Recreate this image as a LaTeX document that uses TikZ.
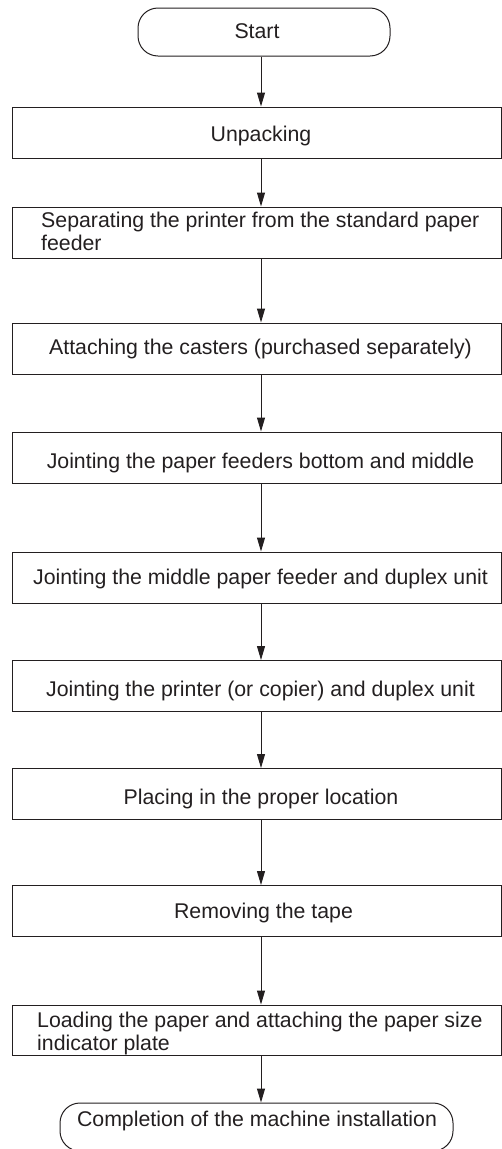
\documentclass[tikz,border=0pt]{standalone}
\usepackage{fontspec}
\setmainfont{Liberation Sans}
\usetikzlibrary{arrows.meta}
\definecolor{ink}{HTML}{231F20}
\begin{document}
\begin{tikzpicture}[x=1pt,y=-1pt,
  box/.style={draw=ink,line width=1pt,minimum width=489pt,minimum height=51pt,inner sep=0pt},
  term/.style={draw=ink,line width=1pt,rounded corners=20pt,inner sep=0pt,minimum height=48pt},
  txt/.style={text=ink,font=\fontsize{21.3}{23}\selectfont,inner sep=0pt,anchor=base},
  ltxt/.style={txt,anchor=base west,align=left},
  arr/.style={draw=ink,line width=1pt,-{Triangle[length=14pt,width=8pt]}}]
\useasboundingbox (0,0) rectangle (502,1149);
\coordinate (axis) at (261,0);
% shapes
\node[term,minimum width=252pt] (start) at (264,32) {};
\node[box] (unpack) at (256.5,132.5) {};
\node[box] (separate) at (256.5,232.5) {};
\node[box] (casters) at (256.5,348.5) {};
\node[box] (joint1) at (256.5,457.5) {};
\node[box] (joint2) at (256.5,577.5) {};
\node[box] (joint3) at (256.5,686) {};
\node[box] (place) at (256.5,794) {};
\node[box] (tape) at (256.5,911) {};
\node[box,minimum height=50pt] (load) at (256.5,1030) {};
\node[term,minimum width=393pt] (finish) at (256.5,1127) {};
% texts
\node[txt] (startT) at (257,38.3) {Start};
\node[txt] (unpackT) at (261,141.7) {Unpacking};
\node[ltxt] (separateT) at (41,250) {Separating the printer from the standard paper\\feeder};
\node[txt] (castersT) at (260.5,354.3) {Attaching the casters (purchased separately)};
\node[txt] (joint1T) at (260.5,468.3) {Jointing the paper feeders bottom and middle};
\node[txt] (joint2T) at (260.5,584) {Jointing the middle paper feeder and duplex unit};
\node[txt] (joint3T) at (260.5,696) {Jointing the printer (or copier) and duplex unit};
\node[txt] (placeT) at (261,804) {Placing in the proper location};
\node[txt] (tapeT) at (263.5,918.3) {Removing the tape};
\node[ltxt] (loadT) at (37,1050) {Loading the paper and attaching the paper size\\indicator plate};
\node[txt] (finishT) at (257,1126.7) {Completion of the machine installation};
% connectors
\draw[arr] (start.south -| axis) -- (unpack.north -| axis);
\draw[arr] (unpack.south -| axis) -- (separate.north -| axis);
\draw[arr] (separate.south -| axis) -- (casters.north -| axis);
\draw[arr] (casters.south -| axis) -- (joint1.north -| axis);
\draw[arr] (joint1.south -| axis) -- (joint2.north -| axis);
\draw[arr] (joint2.south -| axis) -- (joint3.north -| axis);
\draw[arr] (joint3.south -| axis) -- (place.north -| axis);
\draw[arr] (place.south -| axis) -- (tape.north -| axis);
\draw[arr] (tape.south -| axis) -- (load.north -| axis);
\draw[arr] (load.south -| axis) -- (finish.north -| axis);
\end{tikzpicture}
\end{document}
